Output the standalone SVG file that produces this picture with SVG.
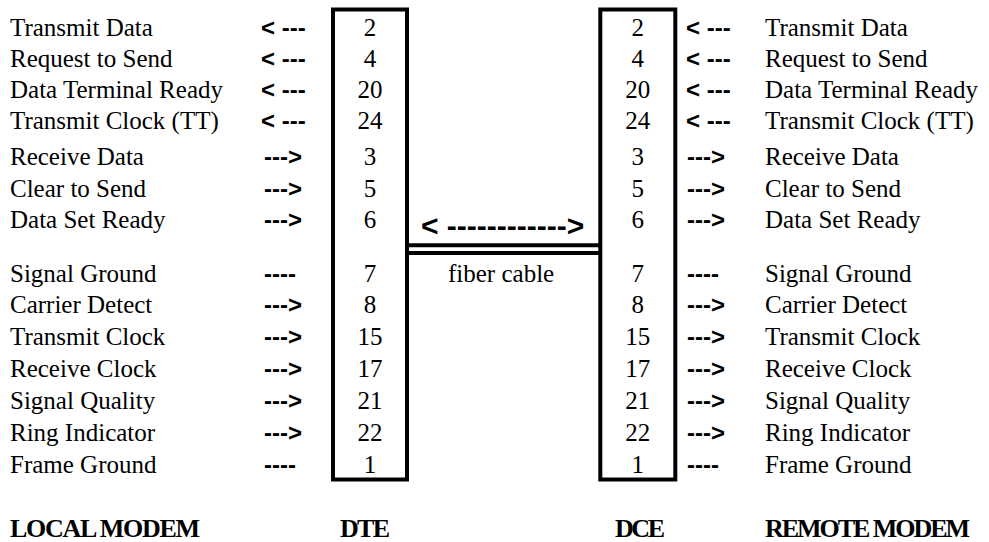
<svg xmlns="http://www.w3.org/2000/svg" width="989" height="542" viewBox="0 0 989 542">
<style>
.lbl{font-family:"Liberation Serif","Times New Roman",serif;font-size:25px;fill:#000}
.num{font-family:"Liberation Serif","Times New Roman",serif;font-size:25px;fill:#000;text-anchor:middle}
.arr{font-family:"Liberation Sans",Arial,sans-serif;font-size:24px;font-weight:bold;fill:#000}
.big{font-family:"Liberation Sans",Arial,sans-serif;font-size:30px;font-weight:bold;fill:#000}
.hdr{font-family:"Liberation Serif","Times New Roman",serif;font-size:26px;font-weight:bold;fill:#000}
.box{fill:none;stroke:#000;stroke-width:4}
.cable{stroke:#000;stroke-width:4;fill:none}
</style>
<rect width="989" height="542" fill="#fff"/>

<g id="local-modem">
<text class="lbl" x="10" y="36">Transmit Data</text>
<text class="lbl" x="10" y="67">Request to Send</text>
<text class="lbl" x="10" y="98">Data Terminal Ready</text>
<text class="lbl" x="10" y="129">Transmit Clock (TT)</text>
<text class="lbl" x="10" y="165">Receive Data</text>
<text class="lbl" x="10" y="196.5">Clear to Send</text>
<text class="lbl" x="10" y="228">Data Set Ready</text>
<text class="lbl" x="10" y="281.5">Signal Ground</text>
<text class="lbl" x="10" y="313">Carrier Detect</text>
<text class="lbl" x="10" y="345">Transmit Clock</text>
<text class="lbl" x="10" y="377">Receive Clock</text>
<text class="lbl" x="10" y="408.5">Signal Quality</text>
<text class="lbl" x="10" y="440.5">Ring Indicator</text>
<text class="lbl" x="10" y="472.5">Frame Ground</text>
<text class="hdr" x="10" y="537" textLength="190">LOCAL MODEM</text>
</g>

<g id="dte">
<rect class="box" x="333" y="9.5" width="74" height="470"/>
<text class="num" x="370" y="36">2</text>
<text class="num" x="370" y="67">4</text>
<text class="num" x="370" y="98">20</text>
<text class="num" x="370" y="129">24</text>
<text class="num" x="370" y="165">3</text>
<text class="num" x="370" y="196.5">5</text>
<text class="num" x="370" y="228">6</text>
<text class="num" x="370" y="281.5">7</text>
<text class="num" x="370" y="313">8</text>
<text class="num" x="370" y="345">15</text>
<text class="num" x="370" y="377">17</text>
<text class="num" x="370" y="408.5">21</text>
<text class="num" x="370" y="440.5">22</text>
<text class="num" x="370" y="472.5">1</text>
<text class="hdr" x="340" y="537" textLength="50">DTE</text>
</g>

<g id="dce">
<rect class="box" x="600.3" y="9.5" width="75" height="470"/>
<text class="num" x="637.8" y="36">2</text>
<text class="num" x="637.8" y="67">4</text>
<text class="num" x="637.8" y="98">20</text>
<text class="num" x="637.8" y="129">24</text>
<text class="num" x="637.8" y="165">3</text>
<text class="num" x="637.8" y="196.5">5</text>
<text class="num" x="637.8" y="228">6</text>
<text class="num" x="637.8" y="281.5">7</text>
<text class="num" x="637.8" y="313">8</text>
<text class="num" x="637.8" y="345">15</text>
<text class="num" x="637.8" y="377">17</text>
<text class="num" x="637.8" y="408.5">21</text>
<text class="num" x="637.8" y="440.5">22</text>
<text class="num" x="637.8" y="472.5">1</text>
<text class="hdr" x="615" y="537" textLength="50">DCE</text>
</g>

<g id="remote-modem">
<text class="lbl" x="765" y="36">Transmit Data</text>
<text class="lbl" x="765" y="67">Request to Send</text>
<text class="lbl" x="765" y="98">Data Terminal Ready</text>
<text class="lbl" x="765" y="129">Transmit Clock (TT)</text>
<text class="lbl" x="765" y="165">Receive Data</text>
<text class="lbl" x="765" y="196.5">Clear to Send</text>
<text class="lbl" x="765" y="228">Data Set Ready</text>
<text class="lbl" x="765" y="281.5">Signal Ground</text>
<text class="lbl" x="765" y="313">Carrier Detect</text>
<text class="lbl" x="765" y="345">Transmit Clock</text>
<text class="lbl" x="765" y="377">Receive Clock</text>
<text class="lbl" x="765" y="408.5">Signal Quality</text>
<text class="lbl" x="765" y="440.5">Ring Indicator</text>
<text class="lbl" x="765" y="472.5">Frame Ground</text>
<text class="hdr" x="765" y="537" textLength="205">REMOTE MODEM</text>
</g>

<g id="connectors">
<text class="arr" x="261" y="36">&lt; ---</text>
<text class="arr" x="261" y="67">&lt; ---</text>
<text class="arr" x="261" y="98">&lt; ---</text>
<text class="arr" x="261" y="129">&lt; ---</text>
<text class="arr" x="264" y="165">---&gt;</text>
<text class="arr" x="264" y="196.5">---&gt;</text>
<text class="arr" x="264" y="228">---&gt;</text>
<text class="arr" x="264" y="281.5">----</text>
<text class="arr" x="264" y="313">---&gt;</text>
<text class="arr" x="264" y="345">---&gt;</text>
<text class="arr" x="264" y="377">---&gt;</text>
<text class="arr" x="264" y="408.5">---&gt;</text>
<text class="arr" x="264" y="440.5">---&gt;</text>
<text class="arr" x="264" y="472.5">----</text>

<text class="arr" x="686" y="36">&lt; ---</text>
<text class="arr" x="686" y="67">&lt; ---</text>
<text class="arr" x="686" y="98">&lt; ---</text>
<text class="arr" x="686" y="129">&lt; ---</text>
<text class="arr" x="687" y="165">---&gt;</text>
<text class="arr" x="687" y="196.5">---&gt;</text>
<text class="arr" x="687" y="228">---&gt;</text>
<text class="arr" x="687" y="281.5">----</text>
<text class="arr" x="687" y="313">---&gt;</text>
<text class="arr" x="687" y="345">---&gt;</text>
<text class="arr" x="687" y="377">---&gt;</text>
<text class="arr" x="687" y="408.5">---&gt;</text>
<text class="arr" x="687" y="440.5">---&gt;</text>
<text class="arr" x="687" y="472.5">----</text>

<line class="cable" x1="407" y1="245.3" x2="600.3" y2="245.3"/>
<line class="cable" x1="407" y1="253" x2="600.3" y2="253"/>
<text class="big" x="421" y="235.5">&lt; ------------&gt;</text>
<text class="lbl" x="448" y="281.5">fiber cable</text>
</g>
</svg>
